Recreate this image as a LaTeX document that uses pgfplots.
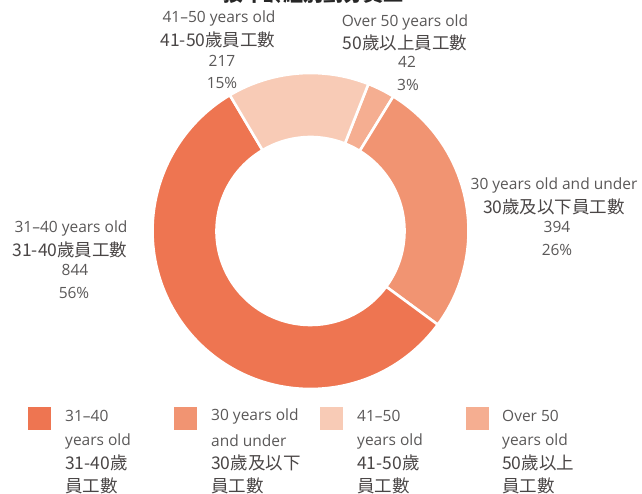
\documentclass[border=0pt]{standalone}
\usepackage{pgfplots}
\pgfplotsset{compat=1.18}
\usepackage{fontspec}
\setmainfont{Open Sans}
\newfontfamily\cjk{Noto Sans CJK TC}
\definecolor{cA}{HTML}{EE7551}% 31-40
\definecolor{cB}{HTML}{F19472}% 30 and under
\definecolor{cC}{HTML}{F8CBB6}% 41-50
\definecolor{cD}{HTML}{F5AE91}% over 50
\definecolor{txt}{HTML}{5A5858}
\definecolor{txtc}{HTML}{4A4646}
% data: employees by age group
\def\vOver{42}
\def\vUnder{394}
\def\vMid{844}
\def\vOld{217}
\pgfmathsetmacro\tot{\vOver+\vUnder+\vMid+\vOld}
\pgfmathsetmacro\aS{68.5}
\pgfmathsetmacro\aOne{\aS-\vOver/\tot*360}
\pgfmathsetmacro\aTwo{\aOne-\vUnder/\tot*360}
\pgfmathsetmacro\aThree{\aTwo-\vMid/\tot*360}
\pgfmathsetmacro\aFour{\aThree-\vOld/\tot*360}
\newcommand\slice[3]{%
  \fill[#1, draw=white, line width=2.6pt, line join=miter]
    ([shift={(#2:158)}]O) arc[start angle=#2, end angle=#3, radius=158]
    -- ([shift={(#3:94)}]O) arc[start angle=#3, end angle=#2, radius=94] -- cycle;}
\newcommand\en[1]{{\fontsize{15.5}{18}\selectfont\color{txt}#1}}
\newcommand\zh[1]{{\fontsize{17.5}{20}\selectfont\color{txtc}\cjk #1}}
\newcommand\legtext[5]{%
  \node[anchor=west, inner sep=0pt] at (axis cs:#1,78) {\en{#2}};
  \node[anchor=west, inner sep=0pt] at (axis cs:#1,53) {\en{#3}};
  \node[anchor=west, inner sep=0pt] at (axis cs:#1,31) {\zh{#4}};
  \node[anchor=west, inner sep=0pt] at (axis cs:#1,8) {\zh{#5}};}
\begin{document}
\begin{tikzpicture}[x=1pt,y=1pt]
\path[use as bounding box] (0,0) rectangle (642,494);
\clip (0,0) rectangle (642,494);
\begin{axis}[at={(0,0)}, anchor=south west, x=1pt, y=1pt,
  xmin=0, xmax=642, ymin=0, ymax=494, hide axis, clip=false]
\coordinate (O) at (axis cs:310.5,263);
\slice{cD}{\aS}{\aOne}
\slice{cB}{\aOne}{\aTwo}
\slice{cA}{\aTwo}{\aThree}
\slice{cC}{\aThree}{\aFour}
% title (cut off at the top edge, as in the source)
\node[anchor=base, text=black!85] at (axis cs:313,492) {\fontsize{20}{22}\selectfont\cjk\bfseries 按年齡組別劃分員工};
% slice labels
\node at (axis cs:219,476) {\en{41–50 years old}};
\node at (axis cs:218,454) {\zh{41-50歲員工數}};
\node at (axis cs:222,433) {\en{217}};
\node at (axis cs:222,411) {\en{15\%}};
\node at (axis cs:405,472) {\en{Over 50 years old}};
\node at (axis cs:405,451) {\zh{50歲以上員工數}};
\node at (axis cs:407,432) {\en{42}};
\node at (axis cs:408,409) {\en{3\%}};
\node at (axis cs:71,266) {\en{31–40 years old}};
\node at (axis cs:70,244) {\zh{31-40歲員工數}};
\node at (axis cs:75,224) {\en{844}};
\node at (axis cs:74,201) {\en{56\%}};
\node at (axis cs:554,309) {\en{30 years old and under}};
\node at (axis cs:554,287) {\zh{30歲及以下員工數}};
\node at (axis cs:557,267) {\en{394}};
\node at (axis cs:557,244) {\en{26\%}};
% legend
\fill[cA] (axis cs:28,64) rectangle (axis cs:51,87);
\fill[cB] (axis cs:174,64) rectangle (axis cs:197,87);
\fill[cC] (axis cs:320,64) rectangle (axis cs:343,87);
\fill[cD] (axis cs:466,64) rectangle (axis cs:489,87);
\legtext{65}{31–40}{years old}{31-40歲}{員工數}
\legtext{211}{30 years old}{and under}{30歲及以下}{員工數}
\legtext{357}{41–50}{years old}{41-50歲}{員工數}
\legtext{502}{Over 50}{years old}{50歲以上}{員工數}
\end{axis}
\end{tikzpicture}
\end{document}
